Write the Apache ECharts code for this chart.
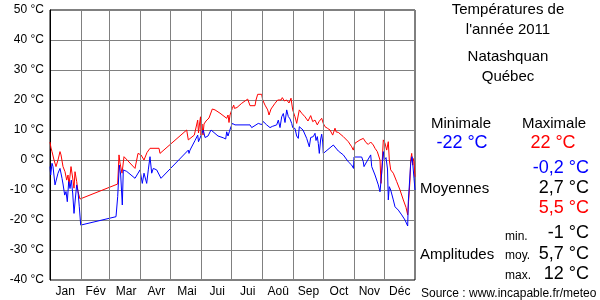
<!DOCTYPE html>
<html><head><meta charset="utf-8">
<script src="https://cdn.jsdelivr.net/npm/echarts@6/dist/echarts.min.js"></script>
<style>html,body{margin:0;padding:0;background:#fff}#c{width:600px;height:300px}</style>
</head><body><div id="c"></div>
<script>
const months = ['Jan','Fév','Mar','Avr','Mai','Jui','Jui','Aoû','Sep','Oct','Nov','Déc'];
const monthStarts = [31,59,90,120,151,181,212,243,273,304,334];
const yTicks = [-40,-30,-20,-10,0,10,20,30,40,50];
// [day of year, °C]
const maxTemps = [[0,6],[1,4],[2,2.8],[4,0],[6,-2.2],[8,0],[10,2.8],[11,1.7],[13,-2.2],[15,-3.9],[16.7,-6.7],[18,-5],[19,-8.3],[21,-2.2],[22.7,-6],[24,-9.4],[25,-3.9],[26.7,-7.2],[28,-10.6],[30,-13],
[67.7,-8],[69,1.7],[70,-1],[72,-4.4],[74,1.1],[85,-2.8],[88,2.2],[91,1.7],[94,0],[97,2.5],[100,3.9],[103,3.9],[104,3.3],[106,3.9],[109,3.9],[110,2.2],
[136.7,10],[138.3,6.7],[144.3,8.3],[147.7,13.3],[148.5,9],[149.5,12],[150.5,14.4],[151,8.3],[152,12],[153,8.3],[154,12],[156,13],[158,13.3],[159,14],[162.3,17],[165,16.7],[170,15.6],[176.7,13.9],[178,15],[179,12.5],[180,15],[182.3,17.2],[183.7,18.3],[184.5,17.2],[187,17.5],[191.7,18.9],[197.7,20.3],[199,20],[200,18.1],[205,18.1],[206,20],[207.7,21.9],[211.7,21.9],[212.7,20],[215,18.3],[217.7,16.7],[219,15],[221,17],[225,18.9],[227.7,20],[229,20.6],[231,20],[232.3,20.8],[234.3,19.7],[236.7,20],[239,19],[240,19.4],[241,20.6],[242.7,16.7],[245,14.4],[246.7,12.2],[249.3,16.7],[251.7,15.6],[255,14.4],[258,13],[260.7,14.8],[262.7,12.8],[265,13.3],[267.3,11.7],[269,12.8],[271.7,13.9],[273.3,12.2],[275,11.1],[277.3,10.6],[280,10],[282.7,8.3],[285,10.6],[286,9.4],[288.3,9.2],[293.3,7.8],[298.3,6.1],[301.7,4.4],[303.3,3.3],[305,5.6],[310,6.7],[313.3,7.2],[316,5.8],[318.3,5.2],[320.7,6],[323.3,5],[325,3.9],[327.3,2.8],[328.3,2.2],[330,0],[331,-7.8],[332,-2],[333.3,6.7],[335,5.6],[336.7,3.3],[338.3,6.1],[339.3,0],[340.7,-3.3],[343.3,-4.4],[346.7,-7.2],[350,-10],[353.3,-13.3],[356,-15.8],[357.7,-18.3],[358.7,-13.3],[360,-6.7],[360.7,0],[361.7,2.2],[362.7,-1.7],[363.3,0.5],[364,-0.5],[365,-5.6]];
const minTemps = [[0,-2.2],[0.7,-5],[2,-1.1],[3,-2.2],[5,-8.3],[6,-7],[8,-4.4],[10,-2.8],[12,-6.1],[13,-8],[14.7,-11.7],[16,-10.5],[17.3,-13.9],[18.7,-7.2],[20,-9.5],[21.3,-6.7],[22.7,-11],[24,-17.8],[25.3,-13],[26.7,-8.3],[28,-10.5],[29.3,-15.6],[30.7,-21.7],[31,-22],
[66,-18.9],[67.7,-12.2],[69.3,-1.7],[70.7,-5],[72.3,-15],[73.3,-3.3],[76.7,-3.8],[85,-6.1],[90,-3.3],[92.3,-7.8],[94,-4.4],[96.7,-7.8],[98.3,-3.3],[100,1.1],[101.7,-4.4],[103.3,-2.8],[106.7,-3.3],[111,-6.1],
[138.3,3.3],[139,2.2],[140,3.3],[145,6.5],[147.7,8.3],[148.5,6.1],[150,6.1],[153.3,10],[155,7.5],[158,8],[161,10],[163,9.4],[168,8],[173.3,7.4],[175.7,7],[176.7,9.4],[178,8],[179.3,9.4],[181,11.1],[182.3,12.2],[185,11.7],[200,11.7],[201.7,10.8],[205,11.5],[208.3,12.2],[211.7,11.8],[213.3,12.8],[216.7,11.7],[220,10.8],[222.3,11.2],[226.7,11.7],[228.3,13.3],[230,10.8],[231.7,14.4],[233.3,15.5],[235,12.5],[236.7,16.7],[238.3,14.5],[240,13.7],[241.7,12.2],[242.7,10.8],[245,10.5],[246.7,8],[248.3,7.2],[249.3,11.1],[250.7,11.7],[253,10],[256.7,7.2],[259.3,4.4],[260.7,7.5],[263.3,7.8],[265,8.9],[266,6.5],[267.3,7.8],[268.3,5.5],[269.3,2.2],[270.7,7],[271.7,8.6],[272.7,6],[273.3,2.2],[283.3,5],[288.3,3],[293.3,1.7],[298.3,-0.6],[301.7,-1.7],[303.5,-2.8],[304,1],[311.7,1],[313.3,-0.6],[314,-2.2],[316,-1],[320.7,1.7],[321.7,-2.2],[325,-5],[328.3,-8.3],[330,-10.6],[331.7,-4.4],[333.3,2.8],[334.3,0],[336,0.8],[337.5,-3],[338.3,-13.3],[339.3,-8.9],[340.7,-10],[341.5,-9.5],[343.3,-13.3],[345,-15.6],[348.3,-16.7],[351.7,-18.3],[355,-20],[357.7,-22],[358.3,-13.9],[359,-14],[360.7,-1.1],[362,1.1],[362.7,-1],[363.3,-0.5],[364,-6.1],[365,-10]];
const stats = {min:'-22 °C', max:'22 °C', avgMin:'-0,2 °C', avg:'2,7 °C', avgMax:'5,5 °C', ampMin:'-1 °C', ampAvg:'5,7 °C', ampMax:'12 °C'};

const FF = '"Liberation Sans", Arial, sans-serif';
const chart = echarts.init(document.getElementById('c'), null, {renderer:'canvas'});
function txt(x, y, s, size, color, align){
  return {type:'text', x:x, y:y, style:{text:s, font: size+'px '+FF, fill:color||'#000', textAlign:align||'center', textVerticalAlign:'middle'}};
}
chart.setOption({
  animation:false,
  backgroundColor:'#fff',
  grid:{left:50, top:10, width:365, height:270, show:true, borderColor:'#000', borderWidth:1, containLabel:false},
  xAxis:[
    {type:'value', min:0, max:365, axisLabel:{show:false}, axisTick:{show:false}, splitLine:{show:false}, axisLine:{show:false}},
    {type:'category', data:months, position:'bottom', boundaryGap:true, axisLine:{show:false}, axisTick:{show:false}, splitLine:{show:false},
     axisLabel:{color:'#000', fontSize:12, fontFamily:FF, margin:6, interval:0}}
  ],
  yAxis:{type:'value', min:-40, max:50, interval:10,
    axisLine:{show:true, lineStyle:{color:'#000'}}, axisTick:{show:false},
    axisLabel:{formatter:function(v){return yTicks.indexOf(v)>=0 ? v+' °C' : '';}, color:'#000', fontSize:12, fontFamily:FF, margin:6},
    splitLine:{show:true, lineStyle:{color:'#808080', width:1}}},
  series:[
    {type:'line', xAxisIndex:0, data:[], z:1, silent:true,
     markLine:{silent:true, symbol:['none','none'], label:{show:false}, lineStyle:{color:'#808080', type:'solid', width:1},
       data: monthStarts.map(d=>({xAxis:d}))}},
    {type:'line', xAxisIndex:0, data:maxTemps, showSymbol:false, z:3, lineStyle:{color:'#ff0000', width:1}, itemStyle:{color:'#ff0000'}},
    {type:'line', xAxisIndex:0, data:minTemps, showSymbol:false, z:4, lineStyle:{color:'#0000ff', width:1}, itemStyle:{color:'#0000ff'}}
  ],
  graphic:[
    txt(508,10,'Températures de',15),
    txt(508,30,"l'année 2011",15),
    txt(508,57,'Natashquan',15),
    txt(508,77,'Québec',15),
    txt(461,124,'Minimale',15),
    txt(554,124,'Maximale',15),
    txt(462,143,stats.min,18,'#0000ff'),
    txt(553,143,stats.max,18,'#ff0000'),
    txt(589,168,stats.avgMin,18,'#0000ff','right'),
    txt(420,189,'Moyennes',15,'#000','left'),
    txt(589,188,stats.avg,18,'#000','right'),
    txt(589,208,stats.avgMax,18,'#ff0000','right'),
    txt(505,237,'min.',12,'#000','left'),
    txt(505,256,'moy.',12,'#000','left'),
    txt(505,276,'max.',12,'#000','left'),
    txt(420,255,'Amplitudes',15,'#000','left'),
    txt(589,233,stats.ampMin,18,'#000','right'),
    txt(589,254,stats.ampAvg,18,'#000','right'),
    txt(589,274,stats.ampMax,18,'#000','right'),
    txt(421,294,'Source : www.incapable.fr/meteo',12,'#000','left')
  ]
});
</script></body></html>
